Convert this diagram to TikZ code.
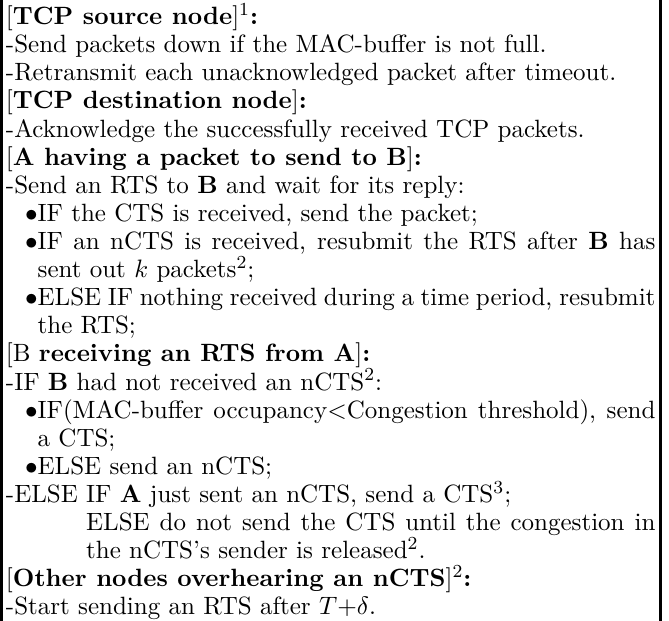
\documentclass[tikz,border=0pt]{standalone}
\newcommand{\indA}{\hspace*{8.3pt}}
\newcommand{\indB}{\hspace*{8.3pt}\hphantom{$\bullet$}}
\newcommand{\fullline}[1]{\makebox[282.4pt][s]{#1}}
\begin{document}
\begin{tikzpicture}[x=1pt,y=1pt,
  rule/.style={line width=1.3pt},
  body/.style={anchor=north west, inner sep=0pt, align=left, font={\fontsize{10.87}{12.22}\selectfont}}]
\useasboundingbox (0,0) rectangle (290.9,270);
\coordinate (lt) at (0.65,270);
\coordinate (lb) at (0.65,0);
\coordinate (rt) at (287.3,270);
\coordinate (rb) at (287.3,0);
\draw[rule] (lt) -- (lb);
\draw[rule] (rt) -- (rb);
\node[body] (txt) at (2.4,268.6) {%
{[}\textbf{TCP source node}]$^1$\textbf{:}\\
-Send packets down if the MAC-buffer is not full.\\
-Retransmit each unacknowledged packet after timeout.\\
{[}\textbf{TCP destination node}]\textbf{:}\\
-Acknowledge the successfully received TCP packets.\\
{[}\textbf{A having a packet to send to B}]\textbf{:}\\
-Send an RTS to \textbf{B} and wait for its reply:\\
\indA$\bullet$IF the CTS is received, send the packet;\\
\fullline{\indA$\bullet$IF an nCTS is received, resubmit the RTS after \textbf{B} has}\\
\indB sent out $k$ packets$^2$;\\
\fullline{\indA$\bullet$ELSE IF nothing received during a time period, resubmit}\\
\indB the RTS;\\
{[}B \textbf{receiving an RTS from A}]\textbf{:}\\
-IF \textbf{B} had not received an nCTS$^2$:\\
\fullline{\indA$\bullet$IF(MAC-buffer occupancy${<}$Congestion threshold), send}\\
\indB a CTS;\\
\indA$\bullet$ELSE send an nCTS;\\
-ELSE IF \textbf{A} just sent an nCTS, send a CTS$^3$;\\
\fullline{\hphantom{-ELSE }ELSE do not send the CTS until the congestion in}\\
\hphantom{-ELSE }the nCTS's sender is released$^2$.\\
{[}\textbf{Other nodes overhearing an nCTS}]$^2$\textbf{:}\\
-Start sending an RTS after $T{+}\delta$.};
\end{tikzpicture}
\end{document}
